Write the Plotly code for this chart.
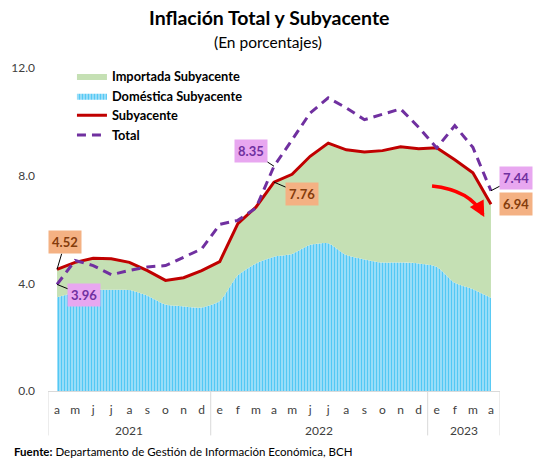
import plotly.graph_objects as go

months = ["a", "m", "j", "j", "a", "s", "o", "n", "d",
          "e", "f", "m", "a", "m", "j", "j", "a", "s", "o", "n", "d",
          "e", "f", "m", "a"]
years = ["2021", "2022", "2023"]
year_counts = [9, 12, 4]

subyacente = [4.52, 4.78, 4.93, 4.91, 4.78, 4.47, 4.11, 4.21, 4.47,
              4.81, 6.22, 6.83, 7.76, 8.05, 8.72, 9.21, 8.96, 8.88, 8.93, 9.07, 9.00,
              9.04, 8.59, 8.11, 6.94]
total = [3.96, 4.85, 4.66, 4.32, 4.48, 4.61, 4.66, 4.97, 5.28,
         6.19, 6.34, 6.80, 8.35, 9.33, 10.33, 10.89, 10.52, 10.08, 10.27, 10.48, 9.80,
         9.03, 9.86, 9.05, 7.44]
domestica = [3.48, 3.66, 3.75, 3.76, 3.75, 3.54, 3.21, 3.14, 3.10,
             3.34, 4.30, 4.74, 4.99, 5.09, 5.43, 5.49, 5.05, 4.89, 4.77, 4.77, 4.74,
             4.62, 4.02, 3.78, 3.46]
importada = [round(s - d, 2) for s, d in zip(subyacente, domestica)]
y_ticks = [0, 4, 8, 12]

x = list(range(len(months)))
FONT = "Lato"
n = len(months)

fig = go.Figure()
fig.add_trace(go.Scatter(
    x=x, y=domestica, name="Doméstica Subyacente", stackgroup="one",
    mode="lines", line=dict(width=0, shape="spline", smoothing=0.6),
    fillcolor="#a6e0f8",
    fillpattern=dict(shape="|", fgcolor="#00b0f0", bgcolor="#a6e0f8", size=3, solidity=0.45),
    legendrank=2, hoverinfo="skip"))
fig.add_trace(go.Scatter(
    x=x, y=importada, name="Importada Subyacente", stackgroup="one",
    mode="lines", line=dict(width=0), fillcolor="#c5e0b4",
    legendrank=1, hoverinfo="skip"))
fig.add_trace(go.Scatter(
    x=x, y=subyacente, name="Subyacente", mode="lines",
    line=dict(color="#c00000", width=3), legendrank=3))
fig.add_trace(go.Scatter(
    x=x, y=total, name="Total", mode="lines",
    line=dict(color="#7030a0", width=3, dash="9px,6px"), legendrank=4))

ORANGE_BG, ORANGE_TX = "#f4b183", "#843c0c"
PINK_BG, PINK_TX = "#e8a7f0", "#7030a0"

def label(xi, yv, bg, tx, ax, ay, arrow=True):
    d = dict(x=xi, y=yv, xref="x", yref="y", text="<b>%.2f</b>" % yv,
             font=dict(family=FONT, size=13, color=tx), bgcolor=bg, borderpad=3)
    if arrow:
        d.update(showarrow=True, arrowhead=0, arrowwidth=1, arrowcolor="#000000",
                 ax=ax, ay=ay, axref="pixel", ayref="pixel")
    else:
        d.update(showarrow=False, xshift=ax, yshift=-ay)
    return d

annotations = [
    label(0, subyacente[0], ORANGE_BG, ORANGE_TX, 8, -27),
    label(0, total[0], PINK_BG, PINK_TX, 27, 11),
    label(12, total[12], PINK_BG, PINK_TX, -23, -15),
    label(12, subyacente[12], ORANGE_BG, ORANGE_TX, 28, 12),
    label(24, total[24], PINK_BG, PINK_TX, 25, -13),
    label(24, subyacente[24], ORANGE_BG, ORANGE_TX, 25, 0, arrow=False),
]

# year labels
start = 0
for yr, c in zip(years, year_counts):
    annotations.append(dict(x=start + (c - 1) / 2, y=-0.122, xref="x", yref="paper",
                            xanchor="center", yanchor="middle",
                            text=yr, showarrow=False,
                            font=dict(family=FONT, size=12, color="#404040")))
    start += c

# red curved arrow head
annotations.append(dict(x=23.63, y=6.46, xref="x", yref="y", text="", showarrow=True,
                        arrowhead=2, arrowsize=0.9, arrowwidth=3.5, arrowcolor="#ff0000",
                        ax=-6, ay=-11, axref="pixel", ayref="pixel"))

# titles and source
annotations += [
    dict(x=0.489, y=1.157, xref="paper", yref="paper", showarrow=False,
         xanchor="center", yanchor="middle",
         text="<b>Inflación Total y Subyacente</b>",
         font=dict(family=FONT, size=19.5, color="#000000")),
    dict(x=0.486, y=1.079, xref="paper", yref="paper", showarrow=False,
         xanchor="center", yanchor="middle",
         text="(En porcentajes)", font=dict(family=FONT, size=15.5, color="#000000")),
    dict(x=-0.0796, y=-0.187, xref="paper", yref="paper", showarrow=False,
         xanchor="left", yanchor="middle",
         text="<b>Fuente:</b> Departamento de Gestión de Información Económica, BCH",
         font=dict(family=FONT, size=11.5, color="#000000")),
]

shapes = [dict(type="path", xref="x", yref="y",
               path="M 20.74,7.62 Q 22.84,7.47 23.55,6.56",
               line=dict(color="#ff0000", width=3.5))]
# axis group dividers
bounds = [-0.5]
acc = -0.5
for c in year_counts:
    acc += c
    bounds.append(acc)
for b in bounds:
    shapes.append(dict(type="line", xref="x", yref="paper", x0=b, x1=b, y0=0, y1=-0.1375,
                       line=dict(color="#d9d9d9", width=1)))

fig.update_layout(
    width=537, height=459,
    margin=dict(l=48, r=37, t=68, b=68),
    paper_bgcolor="white", plot_bgcolor="white",
    font=dict(family=FONT, size=12, color="#404040"),
    showlegend=True,
    legend=dict(x=0.053, y=1.021, xanchor="left", yanchor="top",
                bgcolor="rgba(0,0,0,0)", traceorder="normal",
                font=dict(family=FONT, size=12.8, color="#000000", weight="bold"),
                itemwidth=30, tracegroupgap=0),
    xaxis=dict(range=[-0.5, n - 0.5], tickmode="array", tickvals=x, ticktext=months,
               showgrid=False, zeroline=False, showline=True, linecolor="#d9d9d9",
               linewidth=1, ticks="", ticklabelstandoff=8,
               tickfont=dict(family=FONT, size=12, color="#404040")),
    yaxis=dict(range=[0, 12], tickmode="array", tickvals=y_ticks, tickformat=".1f",
               showgrid=False, zeroline=False, showline=False, ticks="",
               ticklabelstandoff=12,
               tickfont=dict(family=FONT, size=12, color="#404040")),
    annotations=annotations, shapes=shapes,
)

fig.write_html("out.html", config={"displayModeBar": False},
               post_script="document.body.style.margin='0';")
